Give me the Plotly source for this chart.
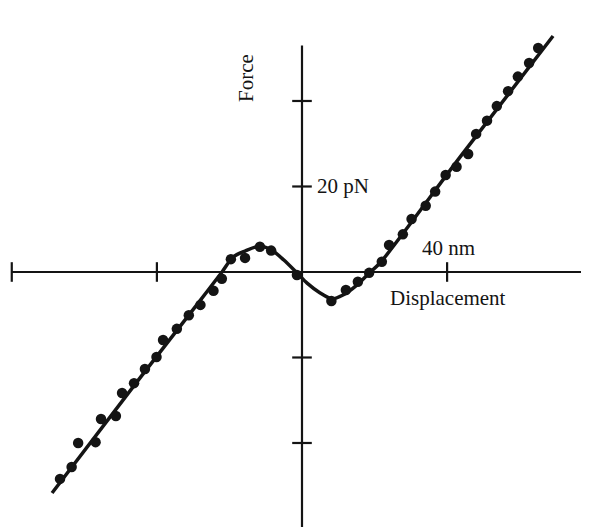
import plotly.graph_objects as go

# Measured data points (Displacement in nm, Force in pN)
dots_x = [-66.7, -63.5, -61.7, -56.9, -55.4, -51.3, -49.6, -46.3, -43.3, -40.1,
          -38.3, -34.5, -31.2, -28.0, -24.4, -22.1, -19.6, -15.7, -11.6, -8.5,
          -1.4, 8.1, 12.1, 15.4, 18.5, 22.0, 24.0, 27.8, 30.2, 34.1,
          36.7, 39.6, 42.6, 45.8, 48.0, 51.0, 53.7, 56.8, 59.5, 62.6, 65.1]
dots_y = [-48.4, -45.6, -40.0, -39.8, -34.4, -33.7, -28.3, -26.0, -22.7, -19.9,
          -15.9, -13.3, -10.1, -7.7, -4.4, -1.6, 3.0, 3.3, 5.9, 5.0,
          -0.7, -6.8, -4.2, -2.3, -0.2, 2.4, 6.3, 8.8, 12.4, 15.5,
          18.8, 22.7, 24.6, 27.6, 32.3, 35.4, 38.8, 42.3, 45.7, 48.9, 52.4]

# Fitted curve
curve_x = [-68.9, -45.5, -28.1, -22.05, -19.0, -15.7, -11.6, -8.3, -5.0, -1.4,
           1.4, 5.0, 8.3, 11.3, 15.2, 18.7, 21.5, 43.5, 69.2]
curve_y = [-51.7, -25.7, -6.7, 0.0, 3.5, 4.9, 6.1, 5.1, 2.8, -0.2,
           -2.6, -4.9, -6.3, -5.4, -3.0, -0.1, 2.1, 26.8, 55.2]

# Axis ticks
x_ticks = [-80, -40, 40]
y_ticks = [40, 20, -20, -40, -60]

# Axis extents
x_axis_span = [-80, 80]
y_axis_span = [-60, 53]

ink = "#141414"
font_family = "Liberation Serif, Times New Roman, serif"

fig = go.Figure()

# Axis lines
fig.add_shape(type="line", x0=x_axis_span[0], x1=x_axis_span[1], y0=0, y1=0,
              line=dict(color=ink, width=2.2), layer="below")
fig.add_shape(type="line", x0=0, x1=0, y0=y_axis_span[0], y1=y_axis_span[1],
              line=dict(color=ink, width=2.2), layer="below")

# Tick marks
fig.add_trace(go.Scatter(x=x_ticks, y=[0] * len(x_ticks), mode="markers",
                         marker=dict(symbol="line-ns", size=14,
                                     line=dict(color=ink, width=2.2)),
                         hoverinfo="skip", showlegend=False))
fig.add_trace(go.Scatter(x=[0] * len(y_ticks), y=y_ticks, mode="markers",
                         marker=dict(symbol="line-ew", size=14,
                                     line=dict(color=ink, width=2.2)),
                         hoverinfo="skip", showlegend=False))

# Fitted curve
fig.add_trace(go.Scatter(x=curve_x, y=curve_y, mode="lines",
                         line=dict(color=ink, width=3.5, shape="spline", smoothing=0.8),
                         showlegend=False))

# Data points
fig.add_trace(go.Scatter(x=dots_x, y=dots_y, mode="markers",
                         marker=dict(color=ink, size=10.5),
                         showlegend=False))

label_font = dict(family=font_family, size=21, color=ink)
fig.add_annotation(x=11.4, y=20.1, text="20 pN", showarrow=False,
                   xanchor="center", yanchor="middle", font=label_font)
fig.add_annotation(x=40.5, y=5.5, text="40 nm", showarrow=False,
                   xanchor="center", yanchor="middle", font=label_font)
fig.add_annotation(x=40.2, y=-6.0, text="Displacement", showarrow=False,
                   xanchor="center", yanchor="middle", font=label_font)
fig.add_annotation(x=-15.4, y=45.4, text="Force", showarrow=False, textangle=-90,
                   xanchor="center", yanchor="middle", font=label_font)

# The page body has an 8px margin, so the figure is 8px smaller and the
# ranges start at window pixel 8.
fig.update_layout(
    width=581, height=519,
    margin=dict(l=0, r=0, t=0, b=0),
    paper_bgcolor="white", plot_bgcolor="white",
    xaxis=dict(visible=False, range=[-81.04, 79.11], fixedrange=True),
    yaxis=dict(visible=False, range=[-59.65, 61.75], fixedrange=True),
)

fig.write_html("out.html")
